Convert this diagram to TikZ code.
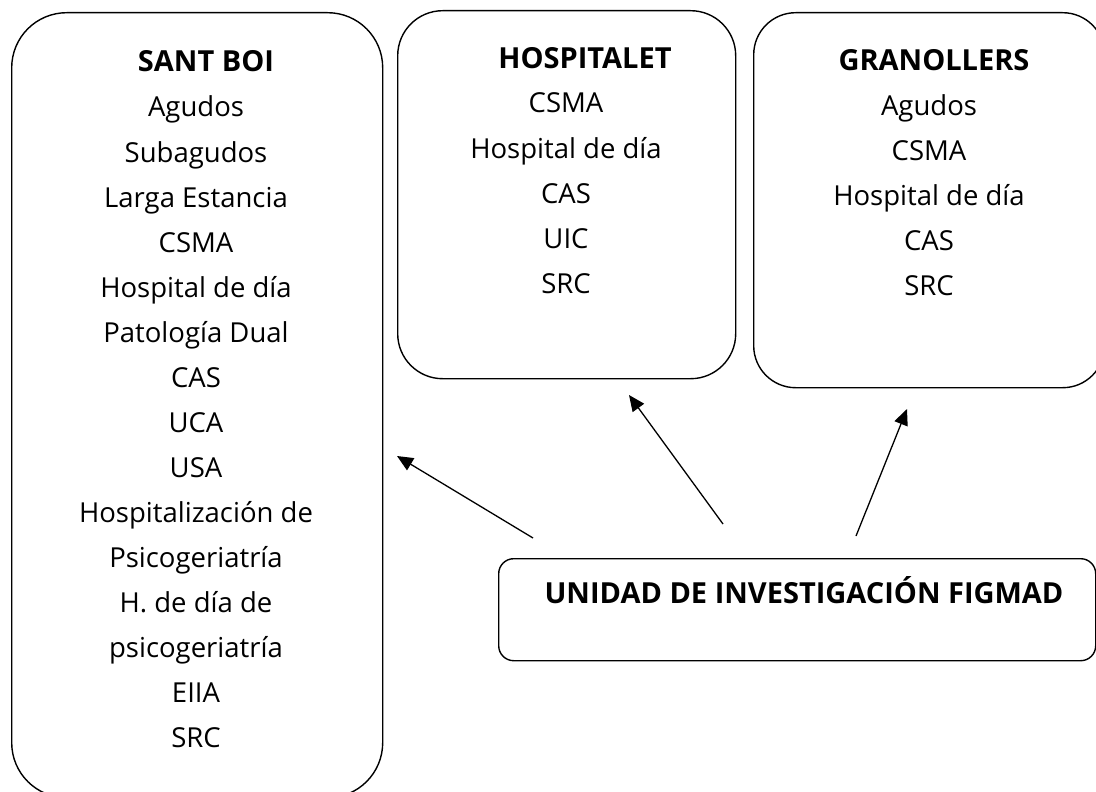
\documentclass[tikz,border=0pt]{standalone}
\usepackage{fontspec}
\setmainfont{Open Sans}
\usetikzlibrary{arrows.meta}
\tikzset{
  area/.style={draw=black, line width=1.4pt, inner sep=0pt},
  item/.style={font=\fontsize{27.5}{33}\selectfont, inner sep=0pt, anchor=base},
  ttl/.style={font=\fontsize{29}{35}\selectfont\bfseries, inner sep=0pt, anchor=base},
  conn/.style={line width=1.3pt, -{Triangle[length=16pt,width=14pt]}}
}
\begin{document}
\begin{tikzpicture}[x=1pt,y=-1pt]
\useasboundingbox (0,0) rectangle (1096,792);
% boxes
\node[area, rounded corners=55pt, minimum width=371pt, minimum height=785pt, anchor=north west] (santboi) at (11,12) {};
\node[area, rounded corners=45pt, minimum width=338pt, minimum height=368pt, anchor=north west] (hosp) at (397,10) {};
\node[area, rounded corners=42pt, minimum width=351pt, minimum height=375pt, anchor=north west] (gran) at (753,12) {};
\node[area, rounded corners=15pt, minimum width=597pt, minimum height=102pt, anchor=north west] (unid) at (498,558) {};
% titles
\node[ttl] (t1) at (206,72) {SANT BOI};
\node[ttl] (t2) at (585,69) {HOSPITALET};
\node[ttl] (t3) at (934,71) {GRANOLLERS};
\node[ttl] (t4) at (804,603) {UNIDAD DE INVESTIGACIÓN FIGMAD};
% lists
\foreach \txt [count=\i] in {Agudos,Subagudos,Larga Estancia,CSMA,Hospital de día,Patología Dual,CAS,UCA,USA,Hospitalización de,Psicogeriatría,H. de día de,psicogeriatría,EIIA,SRC}
  \node[item] (sb\i) at (196,{117+45*(\i-1)}) {\txt};
\foreach \txt [count=\i] in {CSMA,Hospital de día,CAS,UIC,SRC}
  \node[item] (hl\i) at (566,{113+45*(\i-1)}) {\txt};
\foreach \txt [count=\i] in {Agudos,CSMA,Hospital de día,CAS,SRC}
  \node[item] (gr\i) at (929,{115+45*(\i-1)}) {\txt};
% arrows
\coordinate (a1s) at (533,538); \coordinate (a1e) at (397,456);
\coordinate (a2s) at (723,524); \coordinate (a2e) at (629,395);
\coordinate (a3s) at (856,536); \coordinate (a3e) at (907,409);
\draw[conn] (a1s) -- (a1e);
\draw[conn] (a2s) -- (a2e);
\draw[conn] (a3s) -- (a3e);
\end{tikzpicture}
\end{document}
